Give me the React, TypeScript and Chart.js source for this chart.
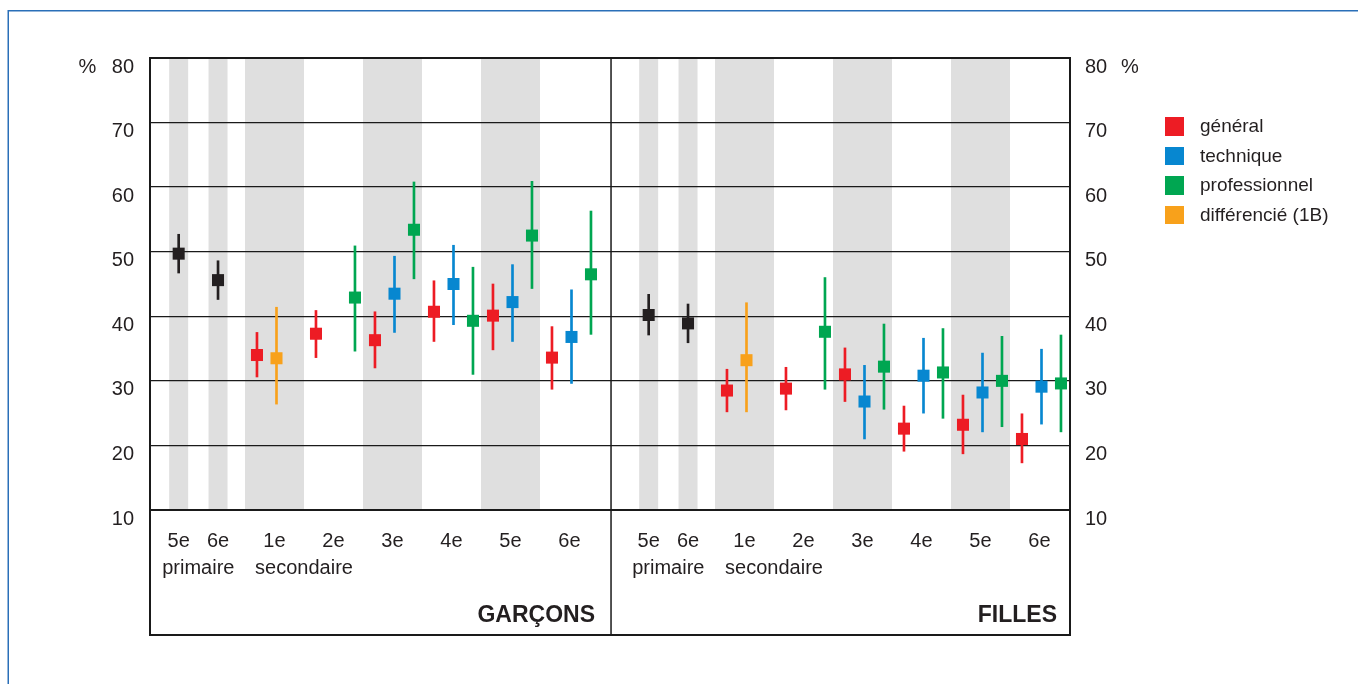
import React, { useEffect, useRef } from "react";
import { Chart, registerables } from "chart.js";

Chart.register(...registerables);

// ---------------- data ----------------
const primaryGrades = ["5e", "6e"];
const secondaryGrades = ["1e", "2e", "3e", "4e", "5e", "6e"];
const levelLabels = ["primaire", "secondaire"];
const panelLabels = ["GARÇONS", "FILLES"];
const yTickValues = [10, 20, 30, 40, 50, 60, 70, 80];
const unitLabel = "%";

const seriesNames = ["général", "technique", "professionnel", "différencié (1B)"];
const seriesColors = ["#ed1c24", "#0787d0", "#00a651", "#f8a11b"];
const primaryColor = "#231f20";

// Garçons
const garconsPrimaire = [49.7, 45.6];
const garconsPrimaireLow = [46.7, 42.6];
const garconsPrimaireHigh = [52.7, 48.6];

const garconsGeneral = [34.0, 37.3, 36.3, 40.7, 40.1, 33.6];
const garconsGeneralLow = [30.6, 33.6, 32.0, 36.1, 34.8, 28.7];
const garconsGeneralHigh = [37.5, 40.9, 40.7, 45.5, 45.0, 38.4];

const garconsTechnique = [null, null, 43.5, 45.0, 42.2, 36.8];
const garconsTechniqueLow = [null, null, 37.5, 38.7, 36.1, 29.6];
const garconsTechniqueHigh = [null, null, 49.3, 51.0, 48.0, 44.1];

const garconsProfessionnel = [null, 42.9, 53.4, 39.3, 52.5, 46.5];
const garconsProfessionnelLow = [null, 34.6, 45.8, 31.0, 44.3, 37.2];
const garconsProfessionnelHigh = [null, 50.9, 60.8, 47.6, 60.9, 56.3];

const garconsDifferencie = [33.5, null, null, null, null, null];
const garconsDifferencieLow = [26.4, null, null, null, null, null];
const garconsDifferencieHigh = [41.4, null, null, null, null, null];

// Filles
const fillesPrimaire = [40.2, 38.9];
const fillesPrimaireLow = [37.1, 35.9];
const fillesPrimaireHigh = [43.4, 41.9];

const fillesGeneral = [28.5, 28.8, 31.0, 22.6, 23.2, 21.0];
const fillesGeneralLow = [25.2, 25.5, 26.8, 19.1, 18.7, 17.3];
const fillesGeneralHigh = [31.8, 32.1, 35.1, 26.1, 27.8, 24.9];

const fillesTechnique = [null, null, 26.8, 30.8, 28.2, 29.1];
const fillesTechniqueLow = [null, null, 21.0, 25.0, 22.1, 23.3];
const fillesTechniqueHigh = [null, null, 32.4, 36.6, 34.3, 34.9];

const fillesProfessionnel = [null, 37.6, 32.2, 31.3, 30.0, 29.6];
const fillesProfessionnelLow = [null, 28.7, 25.6, 24.2, 22.9, 22.1];
const fillesProfessionnelHigh = [null, 46.0, 38.8, 38.1, 36.9, 37.1];

const fillesDifferencie = [33.2, null, null, null, null, null];
const fillesDifferencieLow = [25.2, null, null, null, null, null];
const fillesDifferencieHigh = [42.1, null, null, null, null, null];

// ---------------- layout (x units = width of one secondary grade) ----------------
const X_MAX = 15.593;
const PANEL_OFFSET = [0, 7.966];
const DIVIDER = 7.814;
const PRIMARY_CENTERS = [0.486, 1.153];
const PRIMARY_BAND_HALF = 0.161;
const SEC_START = 1.61;
const SLOT = [0.203, 0.534, 0.864, 0.534];
const SHADED_SECONDARY = [0, 2, 4];

const FONT = "'Liberation Sans', Arial, Helvetica, sans-serif";
const TEXT_COLOR = "#231f20";

type V = number | null;
type Triple = [V[], V[], V[]];

const panels: { primary: Triple; series: Triple[] }[] = [
  {
    primary: [garconsPrimaire, garconsPrimaireLow, garconsPrimaireHigh],
    series: [
      [garconsGeneral, garconsGeneralLow, garconsGeneralHigh],
      [garconsTechnique, garconsTechniqueLow, garconsTechniqueHigh],
      [garconsProfessionnel, garconsProfessionnelLow, garconsProfessionnelHigh],
      [garconsDifferencie, garconsDifferencieLow, garconsDifferencieHigh],
    ],
  },
  {
    primary: [fillesPrimaire, fillesPrimaireLow, fillesPrimaireHigh],
    series: [
      [fillesGeneral, fillesGeneralLow, fillesGeneralHigh],
      [fillesTechnique, fillesTechniqueLow, fillesTechniqueHigh],
      [fillesProfessionnel, fillesProfessionnelLow, fillesProfessionnelHigh],
      [fillesDifferencie, fillesDifferencieLow, fillesDifferencieHigh],
    ],
  },
];

function buildDatasets() {
  const primMarkers: any[] = [];
  const primBars: any[] = [];
  const markers: any[][] = seriesNames.map(() => []);
  const bars: any[][] = seriesNames.map(() => []);
  panels.forEach((p, pi) => {
    const off = PANEL_OFFSET[pi];
    p.primary[0].forEach((m, k) => {
      if (m == null) return;
      const x = off + PRIMARY_CENTERS[k];
      primMarkers.push({ x, y: m });
      primBars.push({ x, y: [p.primary[1][k], p.primary[2][k]] });
    });
    p.series.forEach(([m, lo, hi], s) => {
      m.forEach((v, k) => {
        if (v == null) return;
        const x = off + SEC_START + k + SLOT[s];
        markers[s].push({ x, y: v });
        bars[s].push({ x, y: [lo[k], hi[k]] });
      });
    });
  });
  const ds: any[] = [];
  const markerDs = (label: string, data: any[], color: string) => ({
    type: "scatter",
    label,
    data,
    backgroundColor: color,
    borderColor: color,
    pointStyle: "rect",
    pointRadius: 8.5,
    pointHoverRadius: 8.5,
    pointBorderWidth: 0,
    showLine: false,
    order: 0,
  });
  const barDs = (label: string, data: any[], color: string) => ({
    type: "bar",
    label,
    data,
    backgroundColor: color,
    borderWidth: 0,
    barThickness: 2,
    grouped: false,
    order: 1,
  });
  ds.push(markerDs("primaire", primMarkers, primaryColor));
  seriesNames.forEach((n, s) => ds.push(markerDs(n, markers[s], seriesColors[s])));
  ds.push(barDs("primaire IC", primBars, primaryColor));
  seriesNames.forEach((n, s) => ds.push(barDs(n + " IC", bars[s], seriesColors[s])));
  return ds;
}

const gradeTickValues: number[] = [];
const gradeTickLabels: string[] = [];
const levelTickValues: number[] = [];
const levelTickLabels: string[] = [];
PANEL_OFFSET.forEach((off) => {
  primaryGrades.forEach((g, k) => {
    gradeTickValues.push(off + PRIMARY_CENTERS[k]);
    gradeTickLabels.push(g);
  });
  secondaryGrades.forEach((g, k) => {
    gradeTickValues.push(off + SEC_START + k + 0.5);
    gradeTickLabels.push(g);
  });
  levelTickValues.push(off + (PRIMARY_CENTERS[0] + PRIMARY_CENTERS[1]) / 2);
  levelTickLabels.push(levelLabels[0]);
  levelTickValues.push(off + SEC_START + 1);
  levelTickLabels.push(levelLabels[1]);
});

const decorPlugin = {
  id: "decor",
  beforeDraw(chart: any) {
    const { ctx, chartArea, scales } = chart;
    const x = scales.x;
    ctx.save();
    // outer blue frame
    ctx.strokeStyle = "#2a6fb8";
    ctx.lineWidth = 1.5;
    ctx.beginPath();
    ctx.moveTo(8.25, chart.height);
    ctx.lineTo(8.25, 10.75);
    ctx.lineTo(chart.width, 10.75);
    ctx.stroke();
    // shaded bands
    ctx.fillStyle = "#dfdfdf";
    const band = (a: number, b: number) => {
      const xa = x.getPixelForValue(a);
      const xb = x.getPixelForValue(b);
      ctx.fillRect(xa, chartArea.top, xb - xa, chartArea.bottom - chartArea.top);
    };
    PANEL_OFFSET.forEach((off) => {
      PRIMARY_CENTERS.forEach((c) => band(off + c - PRIMARY_BAND_HALF, off + c + PRIMARY_BAND_HALF));
      SHADED_SECONDARY.forEach((k) => band(off + SEC_START + k, off + SEC_START + k + 1));
    });
    ctx.restore();
  },
  afterDraw(chart: any) {
    const { ctx, chartArea, scales } = chart;
    const x = scales.x;
    const y = scales.y;
    const boxBottom = chartArea.bottom + 125;
    const divX = x.getPixelForValue(DIVIDER);
    ctx.save();
    ctx.strokeStyle = "#1a1a1a";
    ctx.lineWidth = 2;
    ctx.strokeRect(chartArea.left, chartArea.top, chartArea.right - chartArea.left, boxBottom - chartArea.top);
    ctx.beginPath();
    ctx.moveTo(chartArea.left, chartArea.bottom);
    ctx.lineTo(chartArea.right, chartArea.bottom);
    ctx.stroke();
    ctx.lineWidth = 1.5;
    ctx.beginPath();
    ctx.moveTo(divX, chartArea.top);
    ctx.lineTo(divX, boxBottom);
    ctx.stroke();

    ctx.fillStyle = TEXT_COLOR;
    ctx.font = `20px ${FONT}`;
    ctx.textAlign = "center";
    ctx.textBaseline = "middle";
    const yTop = y.getPixelForValue(yTickValues[yTickValues.length - 1]) + 9;
    ctx.fillText(unitLabel, chartArea.left - 62.5, yTop);
    ctx.fillText(unitLabel, chartArea.right + 60, yTop);

    ctx.font = `bold 23px ${FONT}`;
    ctx.textAlign = "right";
    ctx.textBaseline = "alphabetic";
    ctx.fillText(panelLabels[0], divX - 16, chartArea.bottom + 112);
    ctx.fillText(panelLabels[1], chartArea.right - 13, chartArea.bottom + 112);
    ctx.restore();
  },
};

export default function App() {
  const canvasRef = useRef<HTMLCanvasElement | null>(null);

  useEffect(() => {
    if (!canvasRef.current) return;
    Chart.defaults.font.family = FONT;
    Chart.defaults.color = TEXT_COLOR;
    const chart = new Chart(canvasRef.current, {
      type: "scatter",
      data: { datasets: buildDatasets() as any },
      options: {
        animation: false,
        responsive: true,
        maintainAspectRatio: false,
        events: [],
        layout: { padding: { top: 58, left: 0, right: 0, bottom: 0 } },
        plugins: {
          legend: { display: false },
          tooltip: { enabled: false },
        },
        scales: {
          x: {
            type: "linear",
            position: "bottom",
            weight: 0,
            min: 0,
            max: X_MAX,
            offset: false,
            grid: { display: false, drawTicks: false },
            border: { display: false },
            afterBuildTicks: (s: any) => {
              s.ticks = gradeTickValues.map((v) => ({ value: v }));
            },
            afterFit: (s: any) => {
              s.height = 43;
            },
            ticks: {
              autoSkip: false,
              maxRotation: 0,
              minRotation: 0,
              padding: 19,
              font: { size: 20 },
              color: TEXT_COLOR,
              callback: (_v: any, i: number) => gradeTickLabels[i],
            },
          },
          x2: {
            type: "linear",
            position: "bottom",
            weight: 1,
            min: 0,
            max: X_MAX,
            offset: false,
            grid: { display: false, drawTicks: false },
            border: { display: false },
            afterBuildTicks: (s: any) => {
              s.ticks = levelTickValues.map((v) => ({ value: v }));
            },
            afterFit: (s: any) => {
              s.height = 131;
            },
            ticks: {
              autoSkip: false,
              maxRotation: 0,
              minRotation: 0,
              padding: 3,
              font: { size: 20 },
              color: TEXT_COLOR,
              callback: (_v: any, i: number) => levelTickLabels[i],
            },
          },
          y: {
            type: "linear",
            position: "left",
            min: yTickValues[0],
            max: yTickValues[yTickValues.length - 1],
            grid: { color: "#1a1a1a", lineWidth: 1.3, drawTicks: false },
            border: { display: false },
            afterBuildTicks: (s: any) => {
              s.ticks = yTickValues.map((v) => ({ value: v }));
            },
            afterFit: (s: any) => {
              s.width = 150;
            },
            ticks: { padding: 16, labelOffset: 9, font: { size: 20 }, color: TEXT_COLOR },
          },
          yRight: {
            type: "linear",
            position: "right",
            min: yTickValues[0],
            max: yTickValues[yTickValues.length - 1],
            grid: { display: false, drawTicks: false },
            border: { display: false },
            afterBuildTicks: (s: any) => {
              s.ticks = yTickValues.map((v) => ({ value: v }));
            },
            afterFit: (s: any) => {
              s.width = 288;
            },
            ticks: { padding: 15, labelOffset: 9, font: { size: 20 }, color: TEXT_COLOR },
          },
        },
      } as any,
      plugins: [decorPlugin],
    });
    return () => chart.destroy();
  }, []);

  return (
    <div style={{ position: "absolute", left: 0, top: 0, width: 1358, height: 684 }}>
      <canvas ref={canvasRef} />
      <div style={{ position: "absolute", left: 1165, top: 117, fontFamily: FONT, fontSize: 19, color: TEXT_COLOR }}>
        {seriesNames.map((n, i) => (
          <div
            key={n}
            style={{ position: "absolute", left: 0, top: i * 29.6, height: 18.5, display: "flex", alignItems: "center", whiteSpace: "nowrap" }}
          >
            <span style={{ display: "inline-block", width: 19, height: 18.5, background: seriesColors[i] }} />
            <span style={{ marginLeft: 16, lineHeight: "18.5px" }}>{n}</span>
          </div>
        ))}
      </div>
    </div>
  );
}
